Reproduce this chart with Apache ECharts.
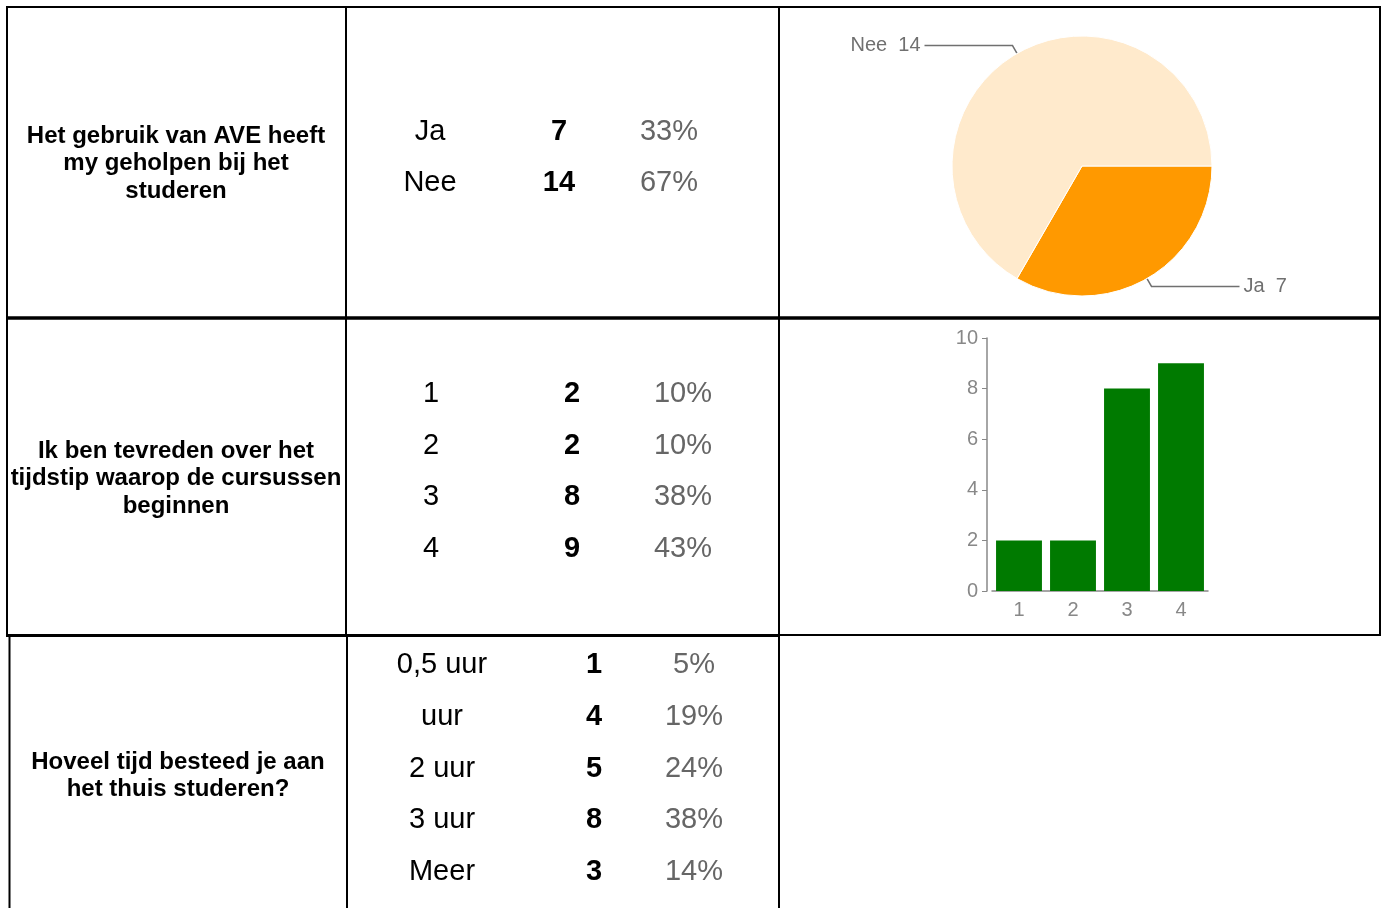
<!DOCTYPE html>
<html>
<head>
<meta charset="utf-8">
<script src="https://cdn.jsdelivr.net/npm/echarts@6/dist/echarts.min.js"></script>
<style>
  html, body { margin: 0; padding: 0; background: #fff; }
  #main { width: 1387px; height: 908px; }
</style>
</head>
<body>
<div id="main"></div>
<script>
// vragen
var questions = [
  ['Het gebruik van AVE heeft', 'my geholpen bij het', 'studeren'],
  ['Ik ben tevreden over het', 'tijdstip waarop de cursussen', 'beginnen'],
  ['Hoveel tijd besteed je aan', 'het thuis studeren?']
]

// antwoorden per vraag
var q1Labels = ['Ja', 'Nee']
var q1Counts = [7, 14]
var q1Pct = ['33%', '67%']

var q2Labels = ['1', '2', '3', '4']
var q2Counts = [2, 2, 8, 9]
var q2Pct = ['10%', '10%', '38%', '43%']

var q3Labels = ['0,5 uur', 'uur', '2 uur', '3 uur', 'Meer']
var q3Counts = [1, 4, 5, 8, 3]
var q3Pct = ['5%', '19%', '24%', '38%', '14%']

var FONT = "'Liberation Sans', Arial, sans-serif"
var myChart = echarts.init(document.getElementById('main'))

// tabel lijnen
var line = function (x1, y1, x2, y2, w) {
  return {
    type: 'line',
    shape: { x1: x1, y1: y1, x2: x2, y2: y2 },
    style: { stroke: '#000', lineWidth: w }
  }
}

var text = function (str, x, y, opt) {
  return {
    type: 'text',
    x: x,
    y: y,
    style: {
      text: str,
      font: (opt.bold ? 'bold ' : '') + opt.size + 'px ' + FONT,
      fill: opt.color || '#000',
      align: 'center',
      verticalAlign: 'middle'
    }
  }
}

var graphics = [
  line(6, 7, 1381, 7, 2),
  line(7, 6, 7, 636, 2),
  line(346, 6, 346, 636, 2),
  line(347, 636, 347, 908, 2),
  line(779, 6, 779, 908, 2),
  line(1380, 6, 1380, 636, 2),
  line(6, 318, 1381, 318, 3.5),
  line(6, 635.5, 779, 635.5, 3),
  line(779, 635, 1381, 635, 2),
  line(9.5, 636, 9.5, 908, 2)
]

// vraagteksten
var qCenters = [[176, 136], [176, 451], [178, 762]]
questions.forEach(function (q, i) {
  q.forEach(function (s, j) {
    graphics.push(text(s, qCenters[i][0], qCenters[i][1] + j * 27.5, { bold: true, size: 24 }))
  })
})

// antwoorden kolom
var addRows = function (labels, counts, pct, cols, y0, step) {
  labels.forEach(function (l, i) {
    var y = y0 + i * step
    graphics.push(text(l, cols[0], y, { size: 29 }))
    graphics.push(text(String(counts[i]), cols[1], y, { size: 29, bold: true }))
    graphics.push(text(pct[i], cols[2], y, { size: 29, color: '#666' }))
  })
}
addRows(q1Labels, q1Counts, q1Pct, [430, 559, 669], 132, 51)
addRows(q2Labels, q2Counts, q2Pct, [431, 572, 683], 394, 51.7)
addRows(q3Labels, q3Counts, q3Pct, [442, 594, 694], 665, 51.75)

var option = {
  animation: false,
  graphic: graphics,
  grid: { left: 992, top: 338, width: 216, height: 253 },
  xAxis: {
    type: 'category',
    data: q2Labels,
    axisLine: { lineStyle: { color: '#888', width: 1.5 } },
    axisTick: { alignWithLabel: true, length: 5, lineStyle: { color: '#888' } },
    axisLabel: { color: '#888', fontSize: 20, fontFamily: FONT, margin: 9 }
  },
  yAxis: {
    type: 'value',
    min: 0,
    max: 10,
    interval: 2,
    offset: 5,
    axisLine: { show: true, lineStyle: { color: '#888', width: 1.5 } },
    axisTick: { show: true, length: 5, lineStyle: { color: '#888' } },
    axisLabel: { color: '#888', fontSize: 20, fontFamily: FONT, margin: 9 },
    splitLine: { show: false }
  },
  series: [
    {
      type: 'pie',
      center: [1082, 166],
      radius: 130,
      startAngle: 0,
      clockwise: true,
      data: q1Labels.map(function (n, i) { return { name: n, value: q1Counts[i] } }),
      color: ['#ff9900', '#ffeacc'],
      itemStyle: { borderColor: '#fff', borderWidth: 1 },
      label: {
        formatter: '{b}  {c}',
        color: '#707070',
        fontSize: 20,
        fontFamily: FONT,
        distanceToLabelLine: 4
      },
      labelLine: {
        length: 9,
        length2: 88,
        lineStyle: { color: '#707070', width: 1.5 }
      },
      emphasis: { disabled: true }
    },
    {
      type: 'bar',
      data: q2Counts,
      barCategoryGap: '15%',
      itemStyle: { color: '#007a00' }
    }
  ]
}
myChart.setOption(option)
</script>
</body>
</html>
